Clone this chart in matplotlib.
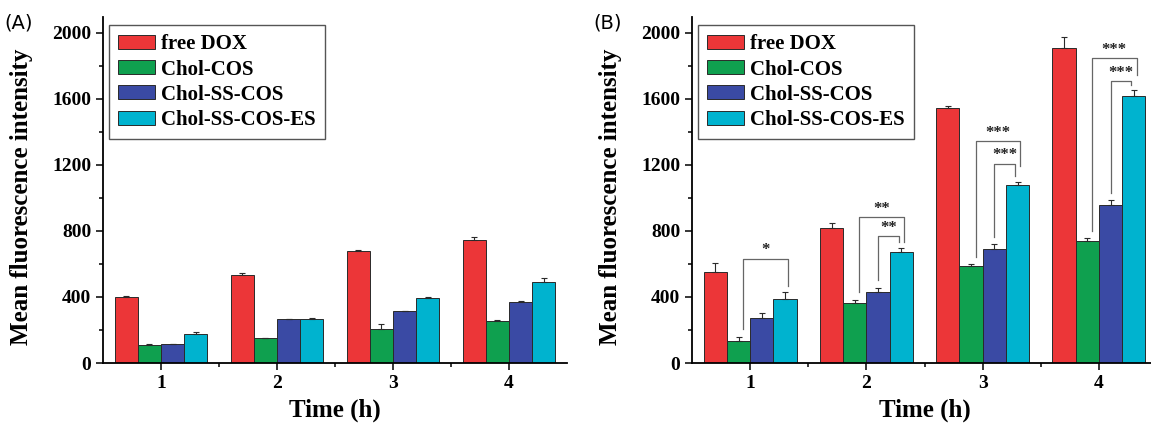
import numpy as np
import matplotlib
matplotlib.use("Agg")
import matplotlib.pyplot as plt
from matplotlib.ticker import MultipleLocator, FixedLocator

plt.rcParams['font.family'] = ['Liberation Serif', 'DejaVu Serif']
plt.rcParams['font.weight'] = 'bold'

# data
times = [1, 2, 3, 4]
series = ["free DOX", "Chol-COS", "Chol-SS-COS", "Chol-SS-COS-ES"]
colors = ["#EC3638", "#0FA04F", "#3A4AA4", "#00B3CF"]

# panel A (mean, error)
a_dox = [400, 535, 677, 745]
a_dox_err = [6, 8, 8, 20]
a_cos = [110, 150, 203, 256]
a_cos_err = [5, 2, 33, 7]
a_sscos = [113, 265, 312, 369]
a_sscos_err = [5, 2, 5, 4]
a_es = [178, 265, 396, 488]
a_es_err = [7, 8, 4, 25]

# panel B (mean, error)
b_dox = [549, 820, 1545, 1905]
b_dox_err = [55, 25, 14, 67]
b_cos = [133, 363, 588, 739]
b_cos_err = [26, 20, 10, 16]
b_sscos = [273, 427, 690, 959]
b_sscos_err = [30, 30, 30, 27]
b_es = [386, 675, 1075, 1615]
b_es_err = [45, 22, 22, 36]

# significance brackets in panel B: (time, left series, right series, top, label)
brackets = [
    (1, 1, 3, 632, "*"),
    (2, 1, 3, 881, "**"),
    (2, 2, 3, 766, "**"),
    (3, 1, 3, 1343, "***"),
    (3, 2, 3, 1206, "***"),
    (4, 1, 3, 1845, "***"),
    (4, 2, 3, 1705, "***"),
]

W, H = 1151, 428
fig = plt.figure(figsize=(W / 100, H / 100), dpi=100)

offsets = [-0.3, -0.1, 0.1, 0.3]
bar_w = 0.2


def draw_panel(ax, vals, errs, letter):
    x = np.array(times, dtype=float)
    for k in range(4):
        ax.bar(x + offsets[k], vals[k], bar_w, color=colors[k], edgecolor="#2a2a2a",
               linewidth=0.7, label=series[k], zorder=2)
        ax.errorbar(x + offsets[k], vals[k], yerr=[np.zeros(4), errs[k]], fmt="none",
                    ecolor="#2a2a2a", elinewidth=0.8, capsize=2.5, capthick=0.8, zorder=3)
    ax.set_xlim(0.5, 4.5)
    ax.set_ylim(0, 2095)
    ax.set_xticks(times)
    ax.xaxis.set_minor_locator(FixedLocator([1.5, 2.5, 3.5]))
    ax.yaxis.set_major_locator(MultipleLocator(400))
    ax.yaxis.set_minor_locator(MultipleLocator(200))
    ax.tick_params(axis="both", which="major", direction="out", length=5, width=1.1, labelsize=14)
    ax.tick_params(axis="both", which="minor", direction="out", length=3, width=1.1)
    for lab in ax.get_xticklabels() + ax.get_yticklabels():
        lab.set_fontweight("bold")
    ax.spines["top"].set_visible(False)
    ax.spines["right"].set_visible(False)
    ax.spines["left"].set_linewidth(1.3)
    ax.spines["bottom"].set_linewidth(1.3)
    ax.set_xlabel("Time (h)", fontsize=18, fontweight="bold", labelpad=5)
    ax.set_ylabel("Mean fluorescence intensity", fontsize=18, fontweight="bold")
    ax.yaxis.set_label_coords(-0.15, 0.48)
    leg = ax.legend(loc="upper left", bbox_to_anchor=(0.013, 0.977), borderaxespad=0,
                    fancybox=False, edgecolor="#555555", framealpha=1,
                    prop={"size": 15, "weight": "bold"},
                    handlelength=1.75, handleheight=0.65, handletextpad=0.3,
                    labelspacing=0.25, borderpad=0.45)
    leg.get_frame().set_linewidth(1.0)
    fig.text(ax.get_position().x0 - 0.086, 0.947, letter, fontsize=14,
             family="DejaVu Sans", fontweight="normal", va="center")


axA = fig.add_axes([103 / W, 1 - 363 / H, 464 / W, 346 / H])
axB = fig.add_axes([692 / W, 1 - 363 / H, 465 / W, 346 / H])

draw_panel(axA, [a_dox, a_cos, a_sscos, a_es], [a_dox_err, a_cos_err, a_sscos_err, a_es_err], "(A)")
b_vals = [b_dox, b_cos, b_sscos, b_es]
b_errs = [b_dox_err, b_cos_err, b_sscos_err, b_es_err]
draw_panel(axB, b_vals, b_errs, "(B)")

# brackets
for t, i, j, top, lab in brackets:
    outer = (i == 1)
    xl = t + offsets[i] + (0.04 if outer else 0.0)
    xr = t + offsets[j] + (0.025 if outer else -0.02)
    yl = b_vals[i][t - 1] + b_errs[i][t - 1] + 45
    yr = b_vals[j][t - 1] + b_errs[j][t - 1] + 35
    if outer and t >= 3:
        yr = yr + 60
    axB.plot([xl, xl, xr, xr], [yl, top, top, yr], color="#666666", lw=0.9, zorder=4,
             clip_on=False)
    axB.text((xl + xr) / 2, top + 2, lab, ha="center", va="bottom", fontsize=12,
             fontweight="bold", color="#222222")

fig.savefig("out.png", dpi=100)
